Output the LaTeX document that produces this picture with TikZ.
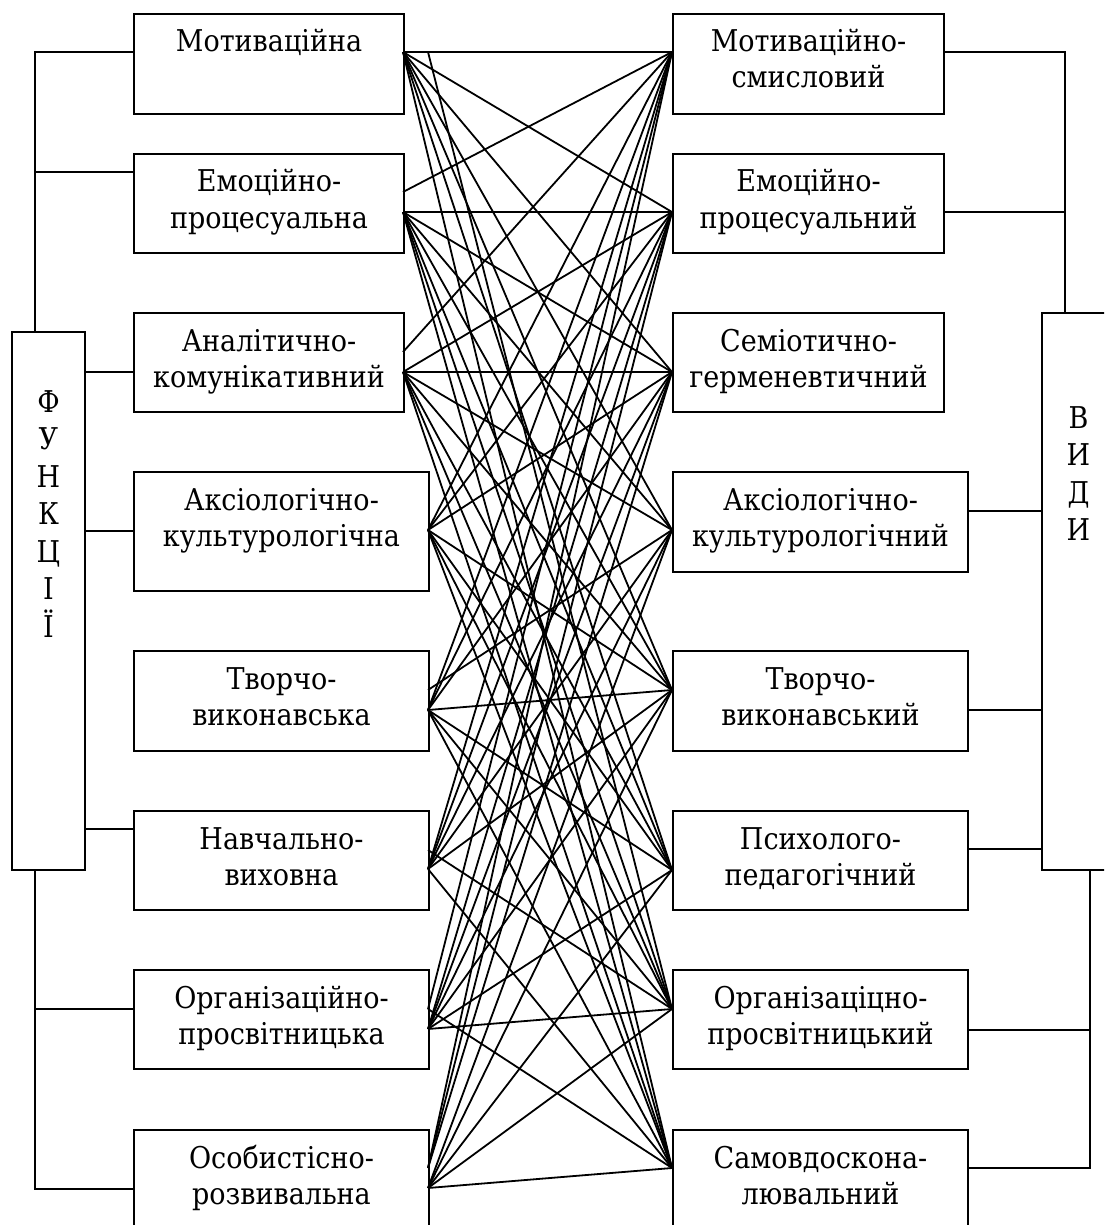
\documentclass[tikz,border=0pt]{standalone}
\usepackage{fontspec}
\setmainfont{DejaVu Serif}[FakeStretch=0.9]
\newcommand\fbx[7]{% name, x1, y1, x2, y2, line1, line2
  \node[box] (#1) at (#2,#3) {\parbox[c][\dimexpr #5pt-#3pt\relax][t]{\dimexpr #4pt-#2pt\relax}{\centering\rule{0pt}{38pt}#6\\#7}};}
\begin{document}
\begin{tikzpicture}[x=1pt,y=-1pt,
  box/.style={draw, line width=2pt, inner sep=0pt, anchor=north west,
    font=\fontsize{30}{36}\selectfont},
  conn/.style={line width=1.8pt},
  brk/.style={line width=1.8pt}]
\useasboundingbox (0,0) rectangle (1104,1225);
\clip (0,0) rectangle (1104,1225);
\fill[white] (0,0) rectangle (1104,1225);
% left boxes
\fbx{L1}{133}{13}{403}{113}{Мотиваційна}{}
\fbx{L2}{133}{153}{403}{252}{Емоційно-}{процесуальна}
\fbx{L3}{133}{312}{403}{411}{Аналітично-}{комунікативний}
\fbx{L4}{133}{471}{428}{590}{Аксіологічно-}{культурологічна}
\fbx{L5}{133}{650}{428}{750}{Творчо-}{виконавська}
\fbx{L6}{133}{810}{428}{909}{Навчально-}{виховна}
\fbx{L7}{133}{969}{428}{1068}{Організаційно-}{просвітницька}
\fbx{L8}{133}{1129}{428}{1229}{Особистісно-}{розвивальна}
% right boxes
\fbx{R1}{672}{13}{943}{113}{Мотиваційно-}{смисловий}
\fbx{R2}{672}{153}{943}{252}{Емоційно-}{процесуальний}
\fbx{R3}{672}{312}{943}{411}{Семіотично-}{герменевтичний}
\fbx{R4}{672}{471}{967}{571}{Аксіологічно-}{культурологічний}
\fbx{R5}{672}{650}{967}{750}{Творчо-}{виконавський}
\fbx{R6}{672}{810}{967}{909}{Психолого-}{педагогічний}
\fbx{R7}{672}{969}{967}{1068}{Організаціцно-}{просвітницький}
\fbx{R8}{672}{1129}{967}{1229}{Самовдоскона-}{лювальний}
% side boxes
\node[box, font=\fontsize{30}{37.5}\selectfont] (F) at (11,331)
  {\parbox[c][538pt][t]{73pt}{\centering\rule{0pt}{80pt}Ф\\У\\Н\\К\\Ц\\І\\Ї}};
\node[box, font=\fontsize{30}{37.5}\selectfont] (V) at (1041,312)
  {\parbox[c][557pt][t]{73pt}{\centering\rule{0pt}{115pt}В\\И\\Д\\И}};
% left bracket
\coordinate (lb1) at (35,52);
\coordinate (lb2) at (35,172);
\coordinate (lb3) at (84,372);
\coordinate (lb4) at (84,531);
\coordinate (lb6) at (84,829);
\coordinate (lb7) at (35,1009);
\coordinate (lb8) at (35,1189);
\draw[brk] (L1.west |- lb1) -- (lb1) -- (F.north -| lb1);
\draw[brk] (lb2) -- (L2.west |- lb2);
\draw[brk] (lb3) -- (L3.west |- lb3);
\draw[brk] (lb4) -- (L4.west |- lb4);
\draw[brk] (lb6) -- (L6.west |- lb6);
\draw[brk] (F.south -| lb8) -- (lb8) -- (L8.west |- lb8);
\draw[brk] (lb7) -- (L7.west |- lb7);
% right bracket
\coordinate (rb1) at (1065,52);
\coordinate (rb2) at (1065,212);
\coordinate (rb4) at (1041,511);
\coordinate (rb5) at (1041,710);
\coordinate (rb6) at (1041,849);
\coordinate (rb7) at (1090,1030);
\coordinate (rb8) at (1090,1168);
\draw[brk] (R1.east |- rb1) -- (rb1) -- (V.north -| rb1);
\draw[brk] (R2.east |- rb2) -- (rb2);
\draw[brk] (R4.east |- rb4) -- (rb4);
\draw[brk] (R5.east |- rb5) -- (rb5);
\draw[brk] (R6.east |- rb6) -- (rb6);
\draw[brk] (V.south -| rb8) -- (rb8) -- (R8.east |- rb8);
\draw[brk] (R7.east |- rb7) -- (rb7);
% fan points
\coordinate (a1) at (403,52);   \coordinate (a1b) at (428,52);
\coordinate (a2u) at (403,192); \coordinate (a2) at (403,212);
\coordinate (a3u) at (403,352); \coordinate (a3) at (403,372);
\coordinate (a4) at (428,530);
\coordinate (a5u) at (428,690); \coordinate (a5) at (428,710);
\coordinate (a6u) at (428,850); \coordinate (a6) at (428,869);
\coordinate (a7u) at (428,1009);\coordinate (a7) at (428,1029);
\coordinate (a8u) at (428,1168);\coordinate (a8) at (428,1188);
\coordinate (b1) at (672,52);
\coordinate (b2) at (672,212);
\coordinate (b3) at (672,372);
\coordinate (b4) at (672,530);
\coordinate (b5) at (672,690);
\coordinate (b6) at (672,870);
\coordinate (b7) at (672,1009);
\coordinate (b8) at (672,1168);
\foreach \s/\t in {a1/b1,a1/b2,a1/b3,a1/b4,a1/b5,a1/b6,a1b/b7,a1/b8,
  a2u/b1,a2/b2,a2/b3,a2/b4,a2/b5,a2/b6,a2/b7,a2/b8,
  a3u/b1,a3/b2,a3/b3,a3/b4,a3/b5,a3/b6,a3/b7,a3/b8,
  a4/b1,a4/b2,a4/b3,a4/b5,a4/b6,a4/b7,a4/b8,
  a5/b1,a5/b2,a5/b3,a5u/b4,a5/b5,a5/b6,a5/b7,a5/b8,
  a6/b1,a6/b2,a6/b3,a6/b4,a6/b5,a6u/b7,a6/b8,
  a7u/b1,a7/b2,a7/b3,a7/b4,a7/b5,a7/b6,a7/b7,a7u/b8,
  a8u/b1,a8u/b2,a8u/b3,a8/b4,a8/b5,a8/b6,a8/b7,a8/b8}
  \draw[conn] (\s) -- (\t);
\end{tikzpicture}
\end{document}
